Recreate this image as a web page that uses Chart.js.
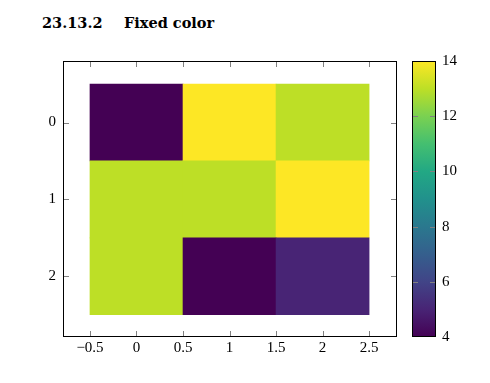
<!DOCTYPE html>
<html>
<head>
<meta charset="utf-8">
<script src="https://cdn.jsdelivr.net/npm/chart.js@4.4.0/dist/chart.umd.min.js"></script>
<style>
  body { margin: 0; background: #fff; width: 490px; height: 383px; position: relative; overflow: hidden; }
  .title { position: absolute; top: 14px; font-family: "DejaVu Serif", serif; font-weight: bold; font-size: 14.5px; white-space: pre; }
  #main { position: absolute; left: 0; top: 0; }
  #bar { position: absolute; left: 400px; top: 0; }
</style>
</head>
<body>
<div class="title" style="left:42px">23.13.2</div>
<div class="title" style="left:124px">Fixed color</div>
<canvas id="main" width="400" height="383"></canvas>
<canvas id="bar" width="90" height="383"></canvas>
<script>
// heatmap data, row by row (row 0 at top)
const rowIdx = [0, 1, 2];
const colIdx = [0, 1, 2];
const cellValues = [
	[4, 14, 13],
	[13, 13, 14],
	[13, 4, 5],
];
const xTicks = [-0.5, 0, 0.5, 1, 1.5, 2, 2.5];
const yTicks = [0, 1, 2];
const colorTicks = [4, 6, 8, 10, 12, 14];
const colorMin = 4;
const colorMax = 14;

// viridis stops
const viridis = ["#440154", "#482475", "#414487", "#355f8d", "#2a788e", "#21918c",
	"#22a884", "#44bf70", "#7ad151", "#bddf26", "#fde725"];

function hexToRgb(h) {
	return [parseInt(h.slice(1, 3), 16), parseInt(h.slice(3, 5), 16), parseInt(h.slice(5, 7), 16)];
}
function colorFor(v) {
	let t = (v - colorMin) / (colorMax - colorMin);
	t = Math.max(0, Math.min(1, t));
	const p = t * (viridis.length - 1);
	const i = Math.min(Math.floor(p), viridis.length - 2);
	const f = p - i;
	const a = hexToRgb(viridis[i]), b = hexToRgb(viridis[i + 1]);
	const c = a.map((x, k) => Math.round(x + (b[k] - x) * f));
	return "rgb(" + c.join(",") + ")";
}

const cells = [];
const cellColors = [];
rowIdx.forEach((r) => {
	colIdx.forEach((c) => {
		cells.push({ x: [c - 0.5, c + 0.5], y: r });
		cellColors.push(colorFor(cellValues[r][c]));
	});
});

const fmt = (v) => String(v).replace("-", "\u2212");
const tickFont = { family: "'Liberation Serif', serif", size: 15 };

// inward gray ticks + black frame
const frameTicks = {
	id: "frameTicks",
	afterDraw(chart, args, opts) {
		const { ctx, chartArea: a } = chart;
		const len = opts.len || 6;
		ctx.save();
		ctx.strokeStyle = "#808080";
		ctx.lineWidth = 1;
		ctx.beginPath();
		const xs = chart.scales.x;
		const ys = chart.scales.y;
		if (opts.xTicks) {
			xs.ticks.forEach((t) => {
				const px = Math.round(xs.getPixelForValue(t.value)) + 0.5;
				ctx.moveTo(px, a.top); ctx.lineTo(px, a.top + len);
				ctx.moveTo(px, a.bottom); ctx.lineTo(px, a.bottom - len);
			});
		}
		ys.ticks.forEach((t) => {
			if (opts.skipEnds && (t.value === ys.min || t.value === ys.max)) return;
			const py = Math.round(ys.getPixelForValue(t.value)) + 0.5;
			ctx.moveTo(a.left, py); ctx.lineTo(a.left + len, py);
			ctx.moveTo(a.right, py); ctx.lineTo(a.right - len, py);
		});
		ctx.stroke();
		ctx.strokeStyle = "#000";
		ctx.strokeRect(Math.round(a.left) + 0.5, Math.round(a.top) + 0.5,
			Math.round(a.right - a.left) - 1, Math.round(a.bottom - a.top) - 1);
		ctx.restore();
	},
};

new Chart(document.getElementById("main").getContext("2d"), {
	type: "bar",
	data: {
		datasets: [{
			data: cells,
			backgroundColor: cellColors,
			borderWidth: 0,
			barPercentage: 1,
			categoryPercentage: 1,
		}],
	},
	options: {
		responsive: false,
		animation: false,
		indexAxis: "y",
		layout: { padding: { top: 61, right: 3, left: 0, bottom: 0 } },
		plugins: { legend: { display: false }, tooltip: { enabled: false }, frameTicks: { len: 6, xTicks: true } },
		scales: {
			x: {
				type: "linear", min: -0.79, max: 2.8, offset: false,
				grid: { display: false, drawTicks: false }, border: { display: false },
				afterBuildTicks: (s) => { s.ticks = xTicks.map((v) => ({ value: v })); },
				afterFit: (s) => { s.height = 46; },
				ticks: { color: "#000", font: tickFont, padding: 2, maxRotation: 0, callback: (v) => fmt(v) },
			},
			y: {
				type: "linear", min: -0.8, max: 2.79, reverse: true, offset: false,
				grid: { display: false, drawTicks: false }, border: { display: false },
				afterBuildTicks: (s) => { s.ticks = yTicks.map((v) => ({ value: v })); },
				afterFit: (s) => { s.width = 63; },
				ticks: { color: "#000", font: tickFont, padding: 7, callback: (v) => fmt(v) },
			},
		},
	},
	plugins: [frameTicks],
});

// colorbar
new Chart(document.getElementById("bar").getContext("2d"), {
	type: "bar",
	data: {
		labels: [""],
		datasets: [{
			data: [[colorMin, colorMax]],
			borderWidth: 0,
			barPercentage: 1,
			categoryPercentage: 1,
			backgroundColor: (c) => {
				const a = c.chart.chartArea;
				if (!a) return viridis[0];
				const g = c.chart.ctx.createLinearGradient(0, a.bottom, 0, a.top);
				viridis.forEach((col, i) => g.addColorStop(i / (viridis.length - 1), col));
				return g;
			},
		}],
	},
	options: {
		responsive: false,
		animation: false,
		layout: { padding: { top: 61, left: 12, right: 0, bottom: 46 } },
		plugins: { legend: { display: false }, tooltip: { enabled: false }, frameTicks: { len: 6, xTicks: false, skipEnds: true } },
		scales: {
			x: { display: false },
			y: {
				type: "linear", position: "right", min: colorMin, max: colorMax,
				grid: { display: false, drawTicks: false }, border: { display: false },
				afterBuildTicks: (s) => { s.ticks = colorTicks.map((v) => ({ value: v })); },
				afterFit: (s) => { s.width = 54; },
				ticks: { color: "#000", font: tickFont, padding: 6 },
			},
		},
	},
	plugins: [frameTicks],
});
</script>
</body>
</html>
